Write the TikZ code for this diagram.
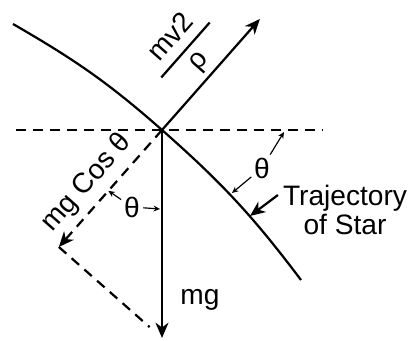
\documentclass[tikz,border=0pt]{standalone}
\usepackage{fontspec}
\setmainfont{Liberation Sans}
\usetikzlibrary{arrows.meta,calc,positioning}

\begin{document}
\begin{tikzpicture}[x=0.3mm,y=0.3mm,line width=1.9pt,
    force/.style={-{Stealth[length=13pt,width=11pt,inset=4pt]}},
    guide/.style={dash pattern=on 8.5pt off 6pt},
    small/.style={-{Stealth[length=5.5pt,width=5pt]},line width=1pt},
    lbl/.style={font=\fontsize{24}{25.5}\selectfont,inner sep=0pt}]
        \useasboundingbox (0,0) rectangle (414,341);
        \coordinate (O) at (162,211);
        \coordinate (top) at ($(O)+(48.6:148)$);
        \coordinate (bot) at (162,3);
        \coordinate (F) at ($(O)+(228.6:156)$);
        \coordinate (hl) at (16,211);
        \coordinate (hr) at (323,211);
        \coordinate (t0) at (13,317);
        \coordinate (t1) at (301,61);
        %Horizontal line
        \draw[guide] (hl) -- (hr);
        %Trajectory
        \draw (t0) to[out=-30,in=138.6] (O) to[out=-41.4,in=127] (t1);
        %Forces
        \draw[force] (O) -- (top);
        \draw[force] (O) -- (bot);
        \draw[guide,force] (O) -- (F);
        \draw[guide] (F) -- ($(F)!0.88!(bot)$);
        %Labels
        \node[lbl,rotate=48.6] (frac) at (185.5,291) {\setlength{\arrayrulewidth}{1.9pt}\renewcommand{\arraystretch}{1.1}%
          \begin{tabular}{@{\hspace{3mm}}c@{\hspace{3mm}}}mv2\\\hline ρ\end{tabular}};
        \node[lbl,rotate=48.6] (mgcos) at (87,158) {mg Cos θ};
        \node[lbl] (mg) at (200,41) {mg};
        \node[lbl] (thL) at (132,134) {θ};
        \node[lbl] (thR) at (262,173) {θ};
        \node[lbl,align=center] (traj) at (345,131) {Trajectory\\of Star};
        %Angle marks
        \coordinate (aL1) at (160,132);
        \coordinate (aL2) at ($(O)!0.52!(F)$);
        \coordinate (aR1) at (284,209);
        \coordinate (aR2) at (232,148);
        \coordinate (tA) at (250,125);
        \draw[small,shorten <=2pt] (thL) -- (aL1);
        \draw[small,shorten <=2pt] (thL) -- (aL2);
        \draw[small,shorten <=2pt] (thR) -- (aR1);
        \draw[small,shorten <=2pt] (thR) -- (aR2);
        \draw[force] ([shift={(-4,15)}]traj.west) -- (tA);
      \end{tikzpicture}
\end{document}
